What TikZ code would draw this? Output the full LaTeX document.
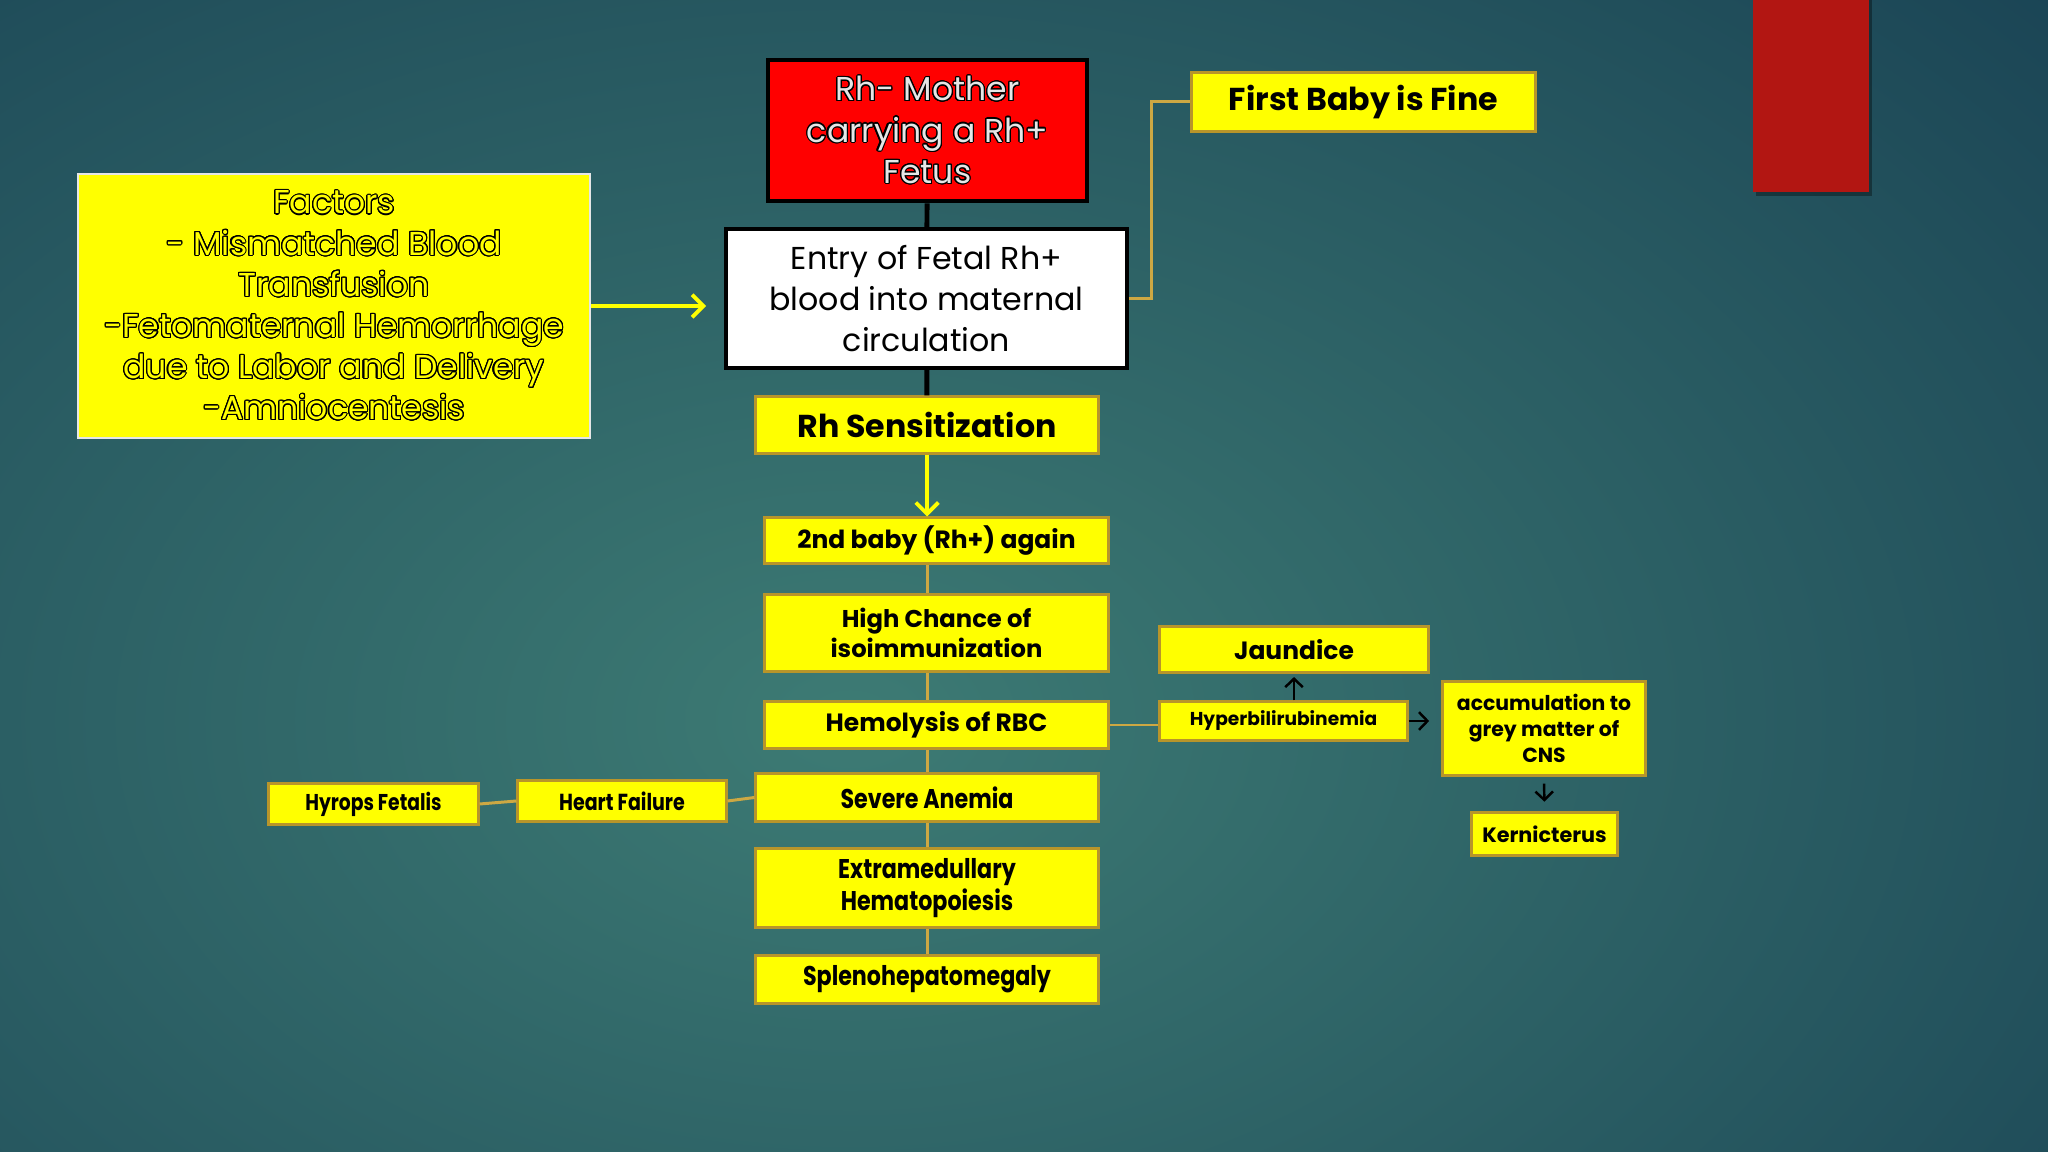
\documentclass[tikz,border=0pt]{standalone}
\usepackage{fontspec}
\setmainfont{Poppins}
\newfontfamily\narrowfont[FakeStretch=0.82]{Poppins}
\usepackage[copies]{contour}
\contournumber{24}
\usetikzlibrary{arrows.meta}
\definecolor{slideyellow}{HTML}{FFFF00}
\definecolor{boxgold}{HTML}{B8952A}
\definecolor{linktan}{HTML}{CDA843}
\definecolor{tealmid}{HTML}{3D7B74}
\definecolor{tealdark}{HTML}{173F52}
\definecolor{barred}{HTML}{B21612}
\definecolor{palegrey}{HTML}{E6E6E6}
\tikzset{
    boxsize/.style 2 args={
            minimum width=#1mm,
            minimum height=#2mm
        },
    block/.style={
            rectangle,
            draw=boxgold,
            line width=0.85pt,
            fill=slideyellow,
            inner sep=0pt,
            align=center
        },
    big/.style={
            block,
            font=\fontsize{9pt}{11.7pt}\selectfont\bfseries
        },
    step box/.style={
            block,
            font=\fontsize{#1}{8.6pt}\selectfont\bfseries
        },
    step box/.default=7.1pt,
    small/.style={
            block,
            font=\fontsize{#1}{7.4pt}\selectfont\bfseries
        },
    small/.default=5.8pt,
    narrow/.style={
            block,
            font=\fontsize{#1}{8.9pt}\narrowfont\bfseries
        },
    narrow/.default=7.7pt,
    mother/.style={
            rectangle,
            draw=black,
            line width=1.3pt,
            fill=red,
            inner sep=0pt,
            align=center,
            text=palegrey,
            font=\fontsize{9.4pt}{11.7pt}\selectfont
        },
    entry/.style={
            rectangle,
            draw=black,
            line width=1pt,
            fill=white,
            inner sep=0pt,
            align=center,
            font=\fontsize{9pt}{11.7pt}\selectfont
        },
    factors/.style={
            rectangle,
            draw=palegrey,
            line width=0.6pt,
            fill=slideyellow,
            inner sep=0pt,
            align=center,
            text=slideyellow,
            font=\fontsize{9.4pt}{11.7pt}\selectfont
        },
    link/.style={
            draw=linktan,
            line width=0.85pt
        },
    stem/.style={
            draw=black,
            line width=1.4pt
        },
    yellow arrow/.style={
            draw=slideyellow,
            line width=1.1pt,
            -{Straight Barb[length=3.2pt,width=6.4pt]}
        },
    thin arrow/.style={
            draw=black,
            line width=0.7pt,
            -{Straight Barb[length=2.4pt,width=5pt]}
        }
}
\contourlength{0.3pt}

\begin{document}
\begin{tikzpicture}[x=0.01cm, y=-0.01cm]
  \useasboundingbox (0,0) rectangle (2048,1152);
  % slide background
  \begin{scope}
    \clip (0,0) rectangle (2048,1152);
    \shade[inner color=tealmid, outer color=tealdark] (-950,-480) rectangle (2650,1920);
    \fill[black, opacity=0.35] (1756,0) rectangle (1872,196);
    \fill[barred] (1753,0) rectangle (1869,192);
  \end{scope}

  % top of the chart
  \node[mother, boxsize={31.9}{14.1}] (mother) at (927.5,130.5)
    {\contour{black}{Rh- Mother}\\\contour{black}{carrying a Rh+}\\\contour{black}{Fetus}};
  \node[entry, boxsize={40.1}{13.9}] (entry) at (926.5,298.5)
    {Entry of Fetal Rh+\\blood into maternal\\circulation};
  \node[factors, boxsize={51.2}{26.4}] (factors) at (334,306)
    {\contour{black}{Factors}\\\contour{black}{- Mismatched Blood}\\\contour{black}{Transfusion}\\
     \contour{black}{-Fetomaternal Hemorrhage}\\\contour{black}{due to Labor and Delivery}\\\contour{black}{-Amniocentesis}};
  \node[big, boxsize={34.4}{5.8}] (firstbaby) at (1363.5,102) {First Baby is Fine};
  \node[big, boxsize={34.3}{5.6}] (rhsens) at (927,425) {Rh Sensitization};

  % second pregnancy
  \node[step box, boxsize={34.3}{4.5}] (baby2) at (936.5,540.5) {2nd baby (Rh+) again};
  \node[step box=6.9pt, boxsize={34.3}{7.6}] (chance) at (936.5,633) {High Chance of\\isoimmunization};
  \node[step box, boxsize={34.3}{4.6}] (hemolysis) at (936.5,725) {Hemolysis of RBC};
  \node[narrow, boxsize={34.2}{4.7}] (anemia) at (927,797.5) {Severe Anemia};
  \node[narrow, boxsize={34.2}{7.8}] (extramed) at (927,888) {Extramedullary\\Hematopoiesis};
  \node[narrow, boxsize={34.2}{4.7}] (spleno) at (927,979.5) {Splenohepatomegaly};
  \node[narrow=6.6pt, boxsize={20.8}{4.0}] (heart) at (622,801) {Heart Failure};
  \node[narrow=6.5pt, boxsize={20.9}{4.0}] (hydrops) at (373.5,804) {Hyrops Fetalis};

  % bilirubin branch
  \node[step box, boxsize={26.8}{4.5}] (jaundice) at (1294,649.5) {Jaundice};
  \node[small=5.3pt, boxsize={24.7}{3.8}] (hyperbili) at (1283.5,721) {Hyperbilirubinemia};
  \node[small, boxsize={20.2}{9.3}] (accum) at (1544,728.5) {accumulation to\\grey matter of\\CNS};
  \node[small=5.9pt, boxsize={14.5}{4.2}] (kern) at (1544.5,834) {Kernicterus};

  % connectors
  \path [stem] (mother) edge (entry);
  \path [stem] (entry) edge (rhsens);
  \draw [yellow arrow] (factors.east) -- ++(115,0);
  \draw [link] (entry.east) -- ++(23,0) |- (firstbaby.west);
  \draw [yellow arrow] (rhsens.south) -- (baby2.north -| rhsens);
  \draw [link] (baby2.south -| rhsens) -- (chance.north -| rhsens);
  \draw [link] (chance.south -| rhsens) -- (hemolysis.north -| rhsens);
  \draw [link] (hemolysis.south -| rhsens) -- (anemia.north);
  \path [link] (anemia) edge (extramed);
  \path [link] (extramed) edge (spleno);
  \draw [link] (anemia.west) -- (heart.east);
  \draw [link] (heart.west) -- (hydrops.east);
  \draw [link] (hemolysis.east) -- (hemolysis.east -| hyperbili.west);
  \draw [thin arrow, shorten >=1pt] (hyperbili.north -| jaundice) -- (jaundice.south);
  \draw [thin arrow, shorten >=3.5pt] (hyperbili.east) -- (accum.west |- hyperbili.east);
  \draw [thin arrow, shorten <=2pt, shorten >=2.8pt] (accum.south) -- (kern.north);
\end{tikzpicture}
\end{document}
